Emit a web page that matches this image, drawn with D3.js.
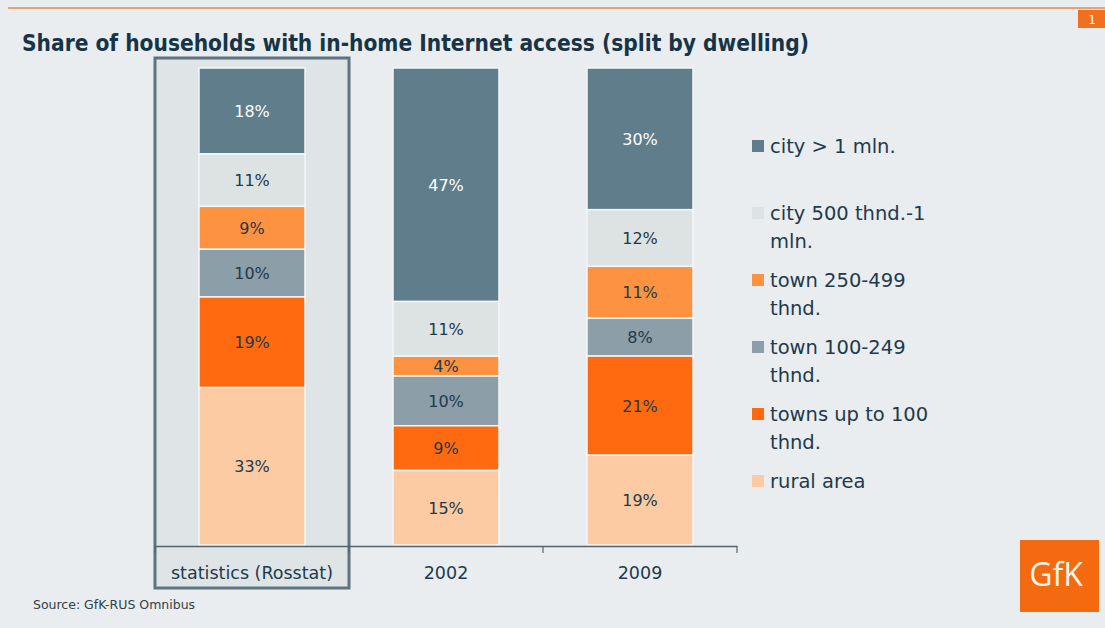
<!DOCTYPE html>
<html><head><meta charset="utf-8">
<script src="https://cdn.jsdelivr.net/npm/d3@7"></script>
<style>
html,body{margin:0;padding:0;background:#e9edef;}
svg{display:block;}
</style></head>
<body>
<svg id="chart" width="1105" height="628"></svg>
<script>
const categories = ["statistics (Rosstat)", "2002", "2009"];
const seriesNames = ["city > 1 mln.", "city 500 thnd.-1 mln.", "town 250-499 thnd.", "town 100-249 thnd.", "towns up to 100 thnd.", "rural area"];
const legendLines = [["city > 1 mln."], ["city 500 thnd.-1", "mln."], ["town 250-499", "thnd."], ["town 100-249", "thnd."], ["towns up to 100", "thnd."], ["rural area"]];
const cityOver1mln = [18, 47, 30];
const city500to1mln = [11, 11, 12];
const town250to499 = [9, 4, 11];
const town100to249 = [10, 10, 8];
const townsUpTo100 = [19, 9, 21];
const ruralArea = [33, 15, 19];
const colors = ["#5f7d8a", "#dde2e3", "#fd9240", "#8c9ea8", "#ff6a10", "#fdcba3"];
const labelColors = ["#ffffff", "#1e3a4b", "#1e3a4b", "#1e3a4b", "#1e3a4b", "#1e3a4b"];

const seriesValues = [cityOver1mln, city500to1mln, town250to499, town100to249, townsUpTo100, ruralArea];
const table = categories.map((c, i) => {
  const row = {cat: c};
  seriesNames.forEach((s, j) => row[s] = seriesValues[j][i]);
  return row;
});

const svg = d3.select("#chart");
const ink = "#1e3a4b";

// top rule and page number
svg.append("rect").attr("x", 8).attr("y", 7).attr("width", 1097).attr("height", 2).attr("fill", "#e6a46a");
svg.append("rect").attr("x", 1078).attr("y", 10).attr("width", 27).attr("height", 18).attr("fill", "#f07020");
svg.append("text").attr("x", 1092).attr("y", 24).attr("text-anchor", "middle").attr("fill", "#fff")
  .attr("font-family", "DejaVu Sans").attr("font-size", 12).text("1");

// title
svg.append("text").attr("x", 22).attr("y", 51)
  .attr("font-family", "DejaVu Sans Condensed, DejaVu Sans").attr("font-weight", "bold")
  .attr("font-size", 22.5).attr("fill", "#163446")
  .text("Share of households with in-home Internet access (split by dwelling)");

const x = d3.scaleBand().domain(categories).range([155, 737]).paddingInner(0).paddingOuter(0);
const y = d3.scaleLinear().domain([0, 1]).range([68, 545]);
const barW = 106;

// highlight box
svg.append("rect").attr("x", x(categories[0])).attr("y", 58).attr("width", x.bandwidth()).attr("height", 530)
  .attr("fill", "#dfe5e7").attr("stroke", "#5f7480").attr("stroke-width", 3);

const stack = d3.stack().keys(seriesNames).offset(d3.stackOffsetExpand);
const stacked = stack(table);

const g = svg.append("g");
stacked.forEach((layer, j) => {
  layer.forEach((d, i) => {
    const cx = x(categories[i]) + x.bandwidth() / 2;
    g.append("rect")
      .attr("x", cx - barW / 2).attr("width", barW)
      .attr("y", y(d[0])).attr("height", y(d[1]) - y(d[0]))
      .attr("fill", colors[j]).attr("stroke", "#f4f6f7").attr("stroke-width", 1.5);
    g.append("text")
      .attr("x", cx).attr("y", (y(d[0]) + y(d[1])) / 2 + 6)
      .attr("text-anchor", "middle").attr("font-family", "DejaVu Sans").attr("font-size", 16)
      .attr("fill", labelColors[j]).text(seriesValues[j][i] + "%");
  });
});

// axis
const axis = d3.axisBottom(x).tickSize(0).tickFormat(d => d);
const ag = svg.append("g").attr("transform", "translate(0,546)").call(axis);
ag.select(".domain").attr("stroke", "#55646c").attr("stroke-width", 1.5);
ag.selectAll(".tick text").attr("font-family", "DejaVu Sans").attr("font-size", 17.5).attr("fill", ink).attr("dy", 0).attr("y", 33);
const bounds = [155, x(categories[1]), x(categories[2]), 737];
svg.selectAll(".sep").data(bounds).enter().append("line")
  .attr("x1", d => d).attr("x2", d => d).attr("y1", 546).attr("y2", 553)
  .attr("stroke", "#55646c").attr("stroke-width", 1.2);

// legend
const legendY = [146, 213, 280, 347, 414, 481];
const lg = svg.append("g");
legendLines.forEach((lines, j) => {
  lg.append("rect").attr("x", 752).attr("y", legendY[j] - 6).attr("width", 12).attr("height", 12).attr("fill", colors[j]);
  lines.forEach((t, k) => {
    lg.append("text").attr("x", 770).attr("y", legendY[j] + 7 + k * 28)
      .attr("font-family", "DejaVu Sans").attr("font-size", 19.5).attr("fill", ink).text(t);
  });
});

// source
svg.append("text").attr("x", 33).attr("y", 609).attr("font-family", "DejaVu Sans").attr("font-size", 12.5)
  .attr("fill", "#333f48").text("Source: GfK-RUS Omnibus");

// logo
svg.append("rect").attr("x", 1020).attr("y", 540).attr("width", 79).attr("height", 72).attr("fill", "#f36a10");
svg.append("text").attr("x", 1056).attr("y", 586).attr("text-anchor", "middle").attr("fill", "#fff4e8")
  .attr("font-family", "Open Sans, DejaVu Sans").attr("font-size", 32).text("GfK");
</script>
</body></html>
